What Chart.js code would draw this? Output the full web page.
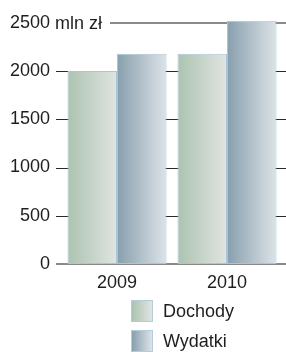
<!DOCTYPE html>
<html>
<head>
<meta charset="utf-8">
<script src="https://cdn.jsdelivr.net/npm/chart.js@4"></script>
<style>
  body { margin: 0; background: #fff; }
  #wrap { position: relative; width: 286px; height: 352px; }
  #legend { position: absolute; left: 131px; top: 300px; font: 18px "Liberation Sans", Arial, sans-serif; color: #1e1e1e; }
  .item { display: flex; align-items: center; height: 22px; margin-bottom: 8px; }
  .box { width: 20px; height: 20px; border: 1px solid #b4cbd8; margin-right: 10px; }
</style>
</head>
<body>
<div id="wrap">
  <canvas id="chart" width="286" height="352"></canvas>
  <div id="legend"></div>
</div>
<script>
const years = ['2009', '2010'];
const dochody = [2000, 2180];
const wydatki = [2180, 2520];
const yTicks = [0, 500, 1000, 1500, 2000, 2500];
const unit = 'mln zł';

const seriesNames = ['Dochody', 'Wydatki'];
const gradColors = [['#acc3b0', '#e1e4e2'], ['#889fae', '#dde3e7']];
const barBorder = '#a9c6d8';

const font = { family: '"Liberation Sans", Arial, sans-serif', size: 18 };

// gradienty słupków liczone z faktycznych pozycji elementów
const barGradients = {
    id: 'barGradients',
    beforeDatasetsDraw(chart) {
        const ctx = chart.ctx;
        chart.data.datasets.forEach((ds, i) => {
            chart.getDatasetMeta(i).data.forEach(el => {
                const { x, width } = el.getProps(['x', 'width'], true);
                const g = ctx.createLinearGradient(x - width / 2, 0, x + width / 2, 0);
                g.addColorStop(0, gradColors[i][0]);
                g.addColorStop(1, gradColors[i][1]);
                el.options = Object.assign({}, el.options, { backgroundColor: g, borderColor: barBorder });
            });
        });
    }
};

// linie siatki od znacznika do prawej krawędzi + jednostka przy 2500
const gridLines = {
    id: 'gridLines',
    beforeDatasetsDraw(chart) {
        const { ctx, chartArea, scales } = chart;
        const yScale = scales.y;
        const top = yTicks[yTicks.length - 1];
        ctx.save();
        ctx.font = `${font.size}px ${font.family}`;
        ctx.textBaseline = 'middle';
        yTicks.forEach(v => {
            const y = Math.round(yScale.getPixelForValue(v));
            let x0 = chartArea.left - 6;
            let color = '#2a2a2a', lw = 1;
            if (v === 0 || v === top) { color = '#8a8a8a'; lw = 2; }
            if (v === top) {
                const tx = chartArea.left - 12 + ctx.measureText(' ').width;
                ctx.fillStyle = '#1e1e1e';
                ctx.textAlign = 'left';
                ctx.fillText(unit, tx, y + 1);
                x0 = tx + ctx.measureText(unit).width + 8;
            }
            const off = lw === 1 ? 0.5 : 0;
            ctx.beginPath();
            ctx.strokeStyle = color;
            ctx.lineWidth = lw;
            ctx.moveTo(x0, y + off);
            ctx.lineTo(chart.width, y + off);
            ctx.stroke();
        });
        ctx.restore();
    }
};

new Chart(document.getElementById('chart'), {
    type: 'bar',
    data: {
        labels: years,
        datasets: [
            { label: seriesNames[0], data: dochody, backgroundColor: gradColors[0][0], borderColor: barBorder },
            { label: seriesNames[1], data: wydatki, backgroundColor: gradColors[1][0], borderColor: barBorder }
        ]
    },
    options: {
        responsive: false,
        animation: false,
        layout: { padding: { top: 22, right: 4, bottom: 0, left: 0 } },
        datasets: {
            bar: {
                categoryPercentage: 0.9,
                barPercentage: 1,
                borderWidth: 1,
                borderSkipped: false,
                clip: false
            }
        },
        plugins: { colors: { enabled: false }, legend: { display: false }, tooltip: { enabled: false } },
        scales: {
            x: {
                grid: { display: false, drawTicks: false },
                border: { display: false },
                ticks: { color: '#1e1e1e', font, padding: 8 },
                afterFit: s => { s.height = 88; }
            },
            y: {
                min: 0,
                max: 2500,
                afterBuildTicks: s => { s.ticks = yTicks.map(v => ({ value: v })); },
                grid: { display: false, drawTicks: false },
                border: { display: false },
                ticks: { color: '#1e1e1e', font, padding: 12, callback: v => String(v) },
                afterFit: s => { s.width = 62; }
            }
        }
    },
    plugins: [gridLines, barGradients]
});

const legend = document.getElementById('legend');
seriesNames.forEach((name, i) => {
    const item = document.createElement('div');
    item.className = 'item';
    const box = document.createElement('span');
    box.className = 'box';
    box.style.background = `linear-gradient(to right, ${gradColors[i][0]}, ${gradColors[i][1]})`;
    const txt = document.createElement('span');
    txt.textContent = name;
    item.appendChild(box);
    item.appendChild(txt);
    legend.appendChild(item);
});
</script>
</body>
</html>
